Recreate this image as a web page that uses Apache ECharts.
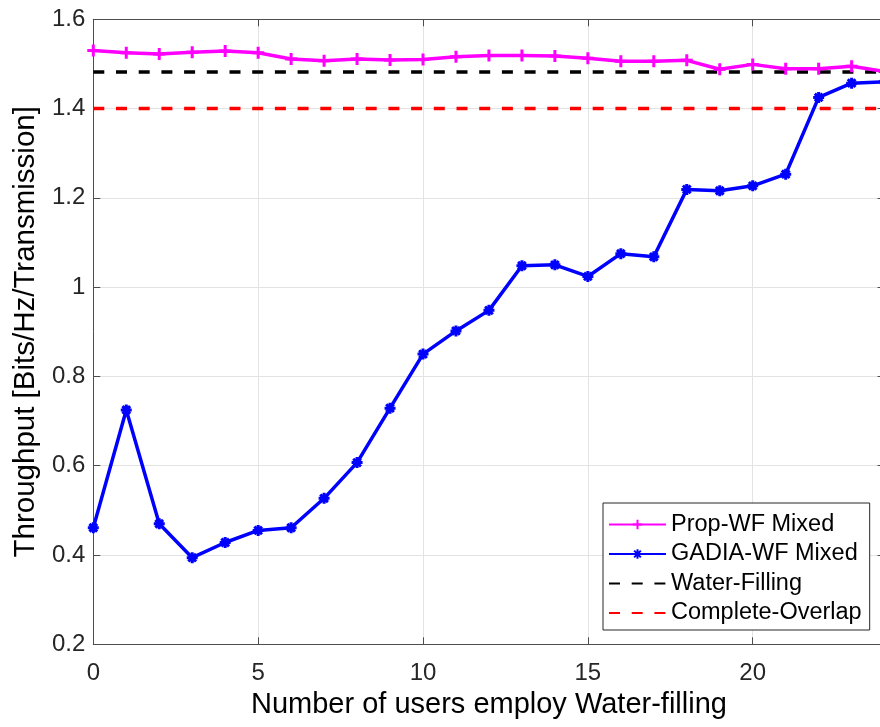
<!DOCTYPE html>
<html>
<head>
<meta charset="utf-8">
<script src="https://cdn.jsdelivr.net/npm/echarts@6/dist/echarts.min.js"></script>
<style>
  html, body { margin: 0; padding: 0; background: #fff; }
  #chart { width: 880px; height: 727px; }
</style>
</head>
<body>
<div id="chart"></div>
<script>
// Number of users employing water-filling
const users = [0,1,2,3,4,5,6,7,8,9,10,11,12,13,14,15,16,17,18,19,20,21,22,23,24];

// Throughput [Bits/Hz/Transmission]
const propWF = [1.530,1.525,1.522,1.526,1.529,1.525,1.511,1.507,1.511,1.509,1.510,1.516,
                1.519,1.519,1.518,1.513,1.506,1.506,1.508,1.488,1.499,1.489,1.489,1.495,1.483];
const gadiaWF = [0.461,0.725,0.470,0.394,0.428,0.455,0.461,0.527,0.607,0.729,0.850,0.902,
                 0.948,1.048,1.050,1.024,1.075,1.068,1.219,1.216,1.227,1.253,1.425,1.457,1.460];
const waterFilling = 1.482;
const completeOverlap = 1.40;

const xTicks = { min: 0, max: 24, interval: 5 };
const yTicks = { min: 0.2, max: 1.6, interval: 0.2 };

const FONT = '"Liberation Sans", Arial, Helvetica, sans-serif';
const AXIS_COLOR = '#4d4d4d';
const GRID_COLOR = '#e3e3e3';

const plusPath = 'path://M0,5L10,5M5,0L5,10';
const starPath = 'path://M0,5L10,5M5,0L5,10M1.5,1.5L8.5,8.5M1.5,8.5L8.5,1.5';

const pair = (xs, ys) => xs.map((x, i) => [x, ys[i]]);
const flat = (v) => [[xTicks.min, v], [xTicks.max, v]];

const chart = echarts.init(document.getElementById('chart'), null, { renderer: 'canvas' });

const baseX = {
  type: 'value', min: xTicks.min, max: xTicks.max, interval: xTicks.interval,
  axisLine: { show: true, onZero: false, lineStyle: { color: AXIS_COLOR, width: 1 } },
  axisTick: { show: true, inside: true, length: 7, lineStyle: { color: AXIS_COLOR } },
};
const baseY = {
  type: 'value', min: yTicks.min, max: yTicks.max, interval: yTicks.interval,
  axisLine: { show: true, onZero: false, lineStyle: { color: AXIS_COLOR, width: 1 } },
  axisTick: { show: true, inside: true, length: 7, lineStyle: { color: AXIS_COLOR } },
};

chart.setOption({
  backgroundColor: '#ffffff',
  animation: false,
  grid: {
    left: 93.3, top: 19.3, right: -4.6, bottom: 82.7,
    containLabel: false, outerBoundsMode: 'none',
  },
  xAxis: [
    Object.assign({}, baseX, {
      position: 'bottom',
      name: 'Number of users employ Water-filling',
      nameLocation: 'middle', nameGap: 44,
      nameTextStyle: { fontFamily: FONT, fontSize: 29, color: '#000' },
      axisLabel: {
        fontFamily: FONT, fontSize: 24, color: '#262626', margin: 17,
        showMaxLabel: false,
      },
      splitLine: { show: true, lineStyle: { color: GRID_COLOR, width: 1 } },
    }),
    Object.assign({}, baseX, {
      position: 'top',
      axisLabel: { show: false },
      splitLine: { show: false },
    }),
  ],
  yAxis: [
    Object.assign({}, baseY, {
      position: 'left',
      name: 'Throughput [Bits/Hz/Transmission]',
      nameLocation: 'middle', nameGap: 52, nameRotate: 90,
      nameTextStyle: { fontFamily: FONT, fontSize: 29.5, color: '#000' },
      axisLabel: {
        fontFamily: FONT, fontSize: 24, color: '#262626', margin: 8,
        formatter: (v) => String(Math.round(v * 10) / 10),
      },
      splitLine: { show: true, lineStyle: { color: GRID_COLOR, width: 1 } },
    }),
    Object.assign({}, baseY, {
      position: 'right',
      axisLabel: { show: false },
      splitLine: { show: false },
    }),
  ],
  legend: {
    orient: 'vertical',
    left: 603, top: 503,
    padding: [9.5, 8, 5, 5],
    itemWidth: 57, itemHeight: 12, itemGap: 5.5,
    backgroundColor: '#ffffff',
    borderColor: '#262626', borderWidth: 1,
    textStyle: { fontFamily: FONT, fontSize: 23.5, color: '#000', lineHeight: 24 },
    data: [
      { name: 'Prop-WF Mixed' },
      { name: 'GADIA-WF Mixed' },
      { name: 'Water-Filling', itemStyle: { opacity: 0 } },
      { name: 'Complete-Overlap', itemStyle: { opacity: 0 } },
    ],
  },
  series: [
    {
      name: 'Prop-WF Mixed', type: 'line',
      data: pair(users, propWF),
      symbol: plusPath, symbolSize: 12,
      lineStyle: { color: '#ff00ff', width: 3.5 },
      itemStyle: { color: '#ff00ff', borderColor: '#ff00ff', borderWidth: 3 },
      z: 4,
    },
    {
      name: 'GADIA-WF Mixed', type: 'line',
      data: pair(users, gadiaWF),
      symbol: starPath, symbolSize: 11,
      lineStyle: { color: '#0000ff', width: 3.5 },
      itemStyle: { color: '#0000ff', borderColor: '#0000ff', borderWidth: 3 },
      z: 4,
    },
    {
      name: 'Water-Filling', type: 'line',
      data: flat(waterFilling),
      symbol: 'none',
      lineStyle: { color: '#000000', width: 3.5, type: [11, 11.7] },
      itemStyle: { color: '#000000' },
      z: 3,
    },
    {
      name: 'Complete-Overlap', type: 'line',
      data: flat(completeOverlap),
      symbol: 'none',
      lineStyle: { color: '#ff0000', width: 3.5, type: [11, 11.7] },
      itemStyle: { color: '#ff0000' },
      z: 3,
    },
  ],
});
</script>
</body>
</html>
